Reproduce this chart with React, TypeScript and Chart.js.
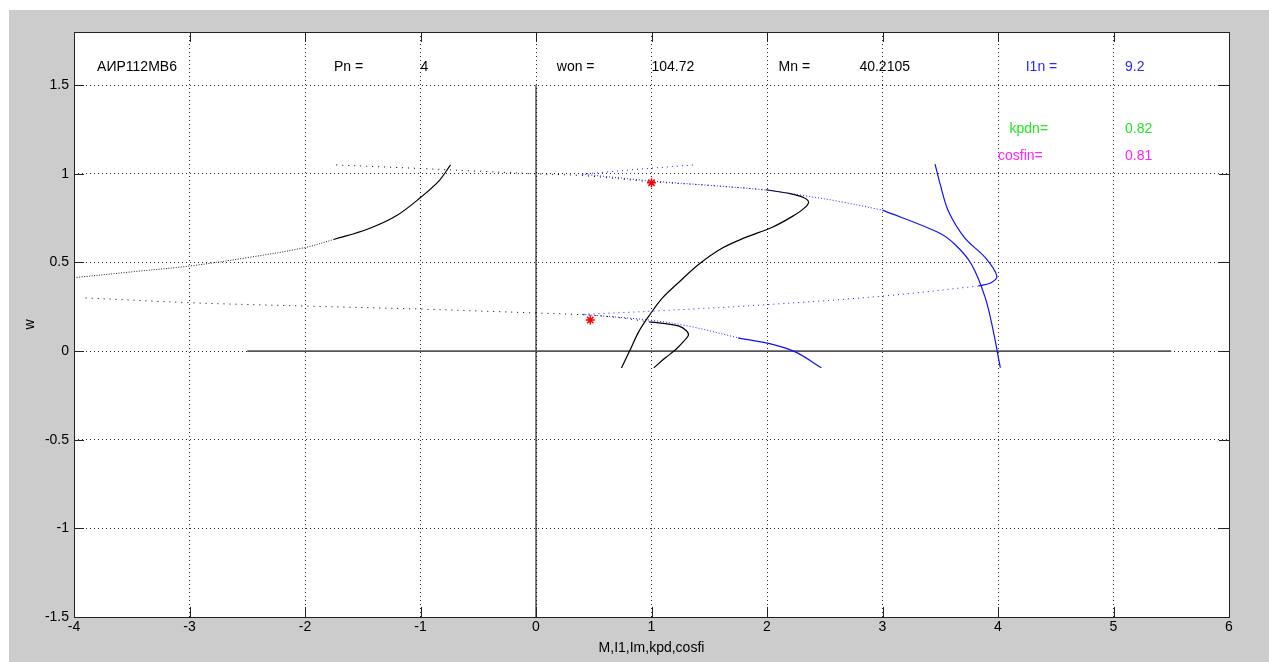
import React, { useEffect, useRef } from "react";
import { Chart, registerables } from "chart.js";

Chart.register(...registerables);

// Axis limits and ticks
const xLimits = [-4, 6];
const yLimits = [-1.5, 1.8];
const xTickValues = [-4, -3, -2, -1, 0, 1, 2, 3, 4, 5, 6];
const yTickValues = [-1.5, -1, -0.5, 0, 0.5, 1, 1.5];

// Black: torque curves
const mGenDotX = [-4, -3.5, -3, -2.5, -2, -1.75];
const mGenDotY = [0.414, 0.447, 0.48, 0.527, 0.584, 0.63];
const mGenX = [-1.75, -1.46, -1.21, -1, -0.84, -0.74];
const mGenY = [0.63, 0.687, 0.763, 0.866, 0.96, 1.05];

const m1DotX = [-1.73, -1, -0.5, 0, 0.4, 1.0, 1.5, 1.99];
const m1DotY = [1.05, 1.03, 1.015, 1.0, 0.99, 0.955, 0.935, 0.91];
const m1X = [1.99, 2.2, 2.32, 2.36, 2.32, 2.22, 2.05, 1.81, 1.61, 1.41, 1.24, 1.095, 0.98, 0.89, 0.81, 0.74];
const m1Y = [0.91, 0.888, 0.865, 0.84, 0.805, 0.76, 0.7, 0.64, 0.58, 0.49, 0.39, 0.3, 0.2, 0.11, 0.0, -0.095];

const m2DotX = [-3.9, -3, -2, -1, 0, 0.4, 0.7, 0.98];
const m2DotY = [0.3, 0.273, 0.254, 0.237, 0.215, 0.205, 0.19, 0.165];
const m2X = [0.98, 1.12, 1.24, 1.3, 1.32, 1.28, 1.21, 1.12, 1.02];
const m2Y = [0.165, 0.155, 0.141, 0.116, 0.09, 0.056, 0.009, -0.038, -0.094];

// Blue: current curves
const i1DotX = [0.4, 1.0, 1.5, 1.99, 2.33, 2.62, 3.0];
const i1DotY = [0.998, 0.96, 0.935, 0.908, 0.876, 0.845, 0.795];
const i1X = [3.0, 3.48, 3.63, 3.77, 3.89, 3.96, 4.02];
const i1Y = [0.795, 0.67, 0.6, 0.49, 0.3, 0.11, -0.094];

const imDotX = [0.4, 0.9, 1.37];
const imDotY = [0.998, 1.027, 1.05];

const i2X = [3.455, 3.5, 3.57, 3.71, 3.89, 3.99, 3.94, 3.83];
const i2Y = [1.055, 0.94, 0.79, 0.64, 0.527, 0.424, 0.386, 0.367];
const i2DotX = [3.83, 3.0, 2.0, 1.0, 0.4];
const i2DotY = [0.367, 0.31, 0.262, 0.225, 0.207];

const i3DotX = [0.4, 0.98, 1.32, 1.75];
const i3DotY = [0.207, 0.175, 0.141, 0.075];
const i3X = [1.75, 2.04, 2.25, 2.47];
const i3Y = [0.075, 0.039, -0.006, -0.094];

// Nominal points
const starX = [1.0, 0.47];
const starY = [0.95, 0.175];

// Reference lines
const zeroLineX = [-2.5, 5.5];
const zeroLineY = [0, 0];
const vertLineX = [0, 0];
const vertLineY = [-1.5, 1.5];

// Annotations
const annoTexts = ["АИР112МВ6", "Pn =", "4", "won =", "104.72", "Mn =", "40.2105", "I1n =", "9.2", "kpdn=", "0.82", "cosfin=", "0.81"];
const annoX = [-3.8, -1.75, -1.0, 0.18, 1.0, 2.1, 2.8, 4.24, 5.1, 4.1, 5.1, 4.0, 5.1];
const annoY = [1.6, 1.6, 1.6, 1.6, 1.6, 1.6, 1.6, 1.6, 1.6, 1.25, 1.25, 1.1, 1.1];
const annoColors = ["#000", "#000", "#000", "#000", "#000", "#000", "#000", "#2828ff", "#2828ff", "#22e622", "#22e622", "#ff22ff", "#ff22ff"];

const xTitle = "M,I1,Im,kpd,cosfi";
const yTitle = "w";

const FONT = "'Liberation Sans', Arial, sans-serif";

function pts(xs: number[], ys: number[]) {
  return xs.map((x, i) => ({ x, y: ys[i] }));
}

function line(xs: number[], ys: number[], color: string, opts: any = {}) {
  return {
    data: pts(xs, ys),
    borderColor: color,
    backgroundColor: color,
    borderWidth: 1.2,
    pointRadius: 0,
    showLine: true,
    fill: false,
    tension: 0.35,
    order: 5,
    ...opts,
  };
}

const frame = {
  id: "matlabFrame",
  beforeDraw(chart: any) {
    const { ctx, chartArea: a } = chart;
    ctx.save();
    ctx.fillStyle = "#ffffff";
    ctx.fillRect(a.left, a.top, a.right - a.left, a.bottom - a.top);
    ctx.restore();
  },
  afterDatasetsDraw(chart: any) {
    const { ctx, chartArea: a, scales } = chart;
    const xs = scales.x;
    const ys = scales.y;
    ctx.save();
    // box
    ctx.strokeStyle = "#222";
    ctx.lineWidth = 1;
    ctx.setLineDash([]);
    ctx.strokeRect(Math.round(a.left) + 0.5, Math.round(a.top) + 0.5, Math.round(a.right - a.left), Math.round(a.bottom - a.top));
    // inner ticks
    const tl = 10;
    ctx.beginPath();
    xTickValues.forEach((v) => {
      const px = Math.round(xs.getPixelForValue(v)) + 0.5;
      ctx.moveTo(px, a.bottom);
      ctx.lineTo(px, a.bottom - tl);
      ctx.moveTo(px, a.top);
      ctx.lineTo(px, a.top + tl);
    });
    yTickValues.forEach((v) => {
      const py = Math.round(ys.getPixelForValue(v)) + 0.5;
      ctx.moveTo(a.left, py);
      ctx.lineTo(a.left + tl, py);
      ctx.moveTo(a.right, py);
      ctx.lineTo(a.right - tl, py);
    });
    ctx.stroke();

    // annotations
    ctx.font = `14px ${FONT}`;
    ctx.textBaseline = "middle";
    ctx.textAlign = "left";
    annoTexts.forEach((t, i) => {
      ctx.fillStyle = annoColors[i];
      ctx.fillText(t, xs.getPixelForValue(annoX[i]), ys.getPixelForValue(annoY[i]));
    });

    // axis titles
    ctx.fillStyle = "#000";
    ctx.textAlign = "center";
    ctx.fillText(xTitle, (a.left + a.right) / 2, 638);
    ctx.save();
    ctx.translate(21, (a.top + a.bottom) / 2);
    ctx.rotate(-Math.PI / 2);
    ctx.fillText(yTitle, 0, 0);
    ctx.restore();
    ctx.restore();
  },
};

export default function App() {
  const ref = useRef<HTMLCanvasElement | null>(null);
  useEffect(() => {
    if (!ref.current) return;
    const dot = [1, 5];
    const dotB = [1, 2];
    const chart = new Chart(ref.current, {
      type: "scatter",
      data: {
        datasets: [
          {
            data: pts(starX, starY),
            pointStyle: "star",
            pointRadius: 4.5,
            borderColor: "#ff0000",
            backgroundColor: "#ff0000",
            borderWidth: 1.5,
            showLine: false,
            order: 0,
          } as any,
          line(i1X, i1Y, "#1010ff", { order: 1 }),
          line(i1DotX, i1DotY, "#2020ff", { borderDash: dotB, borderWidth: 1, order: 1 }),
          line(imDotX, imDotY, "#2020ff", { borderDash: [1, 4], borderWidth: 1, tension: 0, order: 1 }),
          line(i2X, i2Y, "#1010ff", { order: 1 }),
          line(i2DotX, i2DotY, "#2020ff", { borderDash: [1, 4], borderWidth: 1, order: 1 }),
          line(i3X, i3Y, "#1010ff", { order: 1 }),
          line(i3DotX, i3DotY, "#2020ff", { borderDash: dotB, borderWidth: 1, order: 1 }),
          line(mGenX, mGenY, "#000"),
          line(mGenDotX, mGenDotY, "#222", { borderDash: [1, 1.5], borderWidth: 1 }),
          line(m1X, m1Y, "#000"),
          line(m1DotX, m1DotY, "#000", { borderDash: dot, borderWidth: 1 }),
          line(m2X, m2Y, "#000"),
          line(m2DotX, m2DotY, "#000", { borderDash: dot, borderWidth: 1 }),
          line(zeroLineX, zeroLineY, "#555", { borderWidth: 1.6, tension: 0, order: 9 }),
          line(vertLineX, vertLineY, "#000", { borderWidth: 1, tension: 0, order: 9 }),
        ],
      },
      options: {
        animation: false,
        responsive: false,
        events: [],
        layout: { padding: { left: 0, top: 22, right: 40, bottom: 0 } },
        plugins: { legend: { display: false }, tooltip: { enabled: false } },
        scales: {
          x: {
            type: "linear",
            min: xLimits[0],
            max: xLimits[1],
            afterFit: (s: any) => {
              s.height = 45;
            },
            afterBuildTicks: (s: any) => {
              s.ticks = xTickValues.map((v) => ({ value: v }));
            },
            ticks: {
              font: { family: FONT, size: 14 },
              color: "#000",
              padding: 2,
              autoSkip: false,
              maxRotation: 0,
              callback: (v: any) => String(v),
            },
            grid: { color: "rgba(0,0,0,0.85)", lineWidth: 1, drawTicks: false },
            border: { display: false, dash: [1, 3] },
          },
          y: {
            type: "linear",
            min: yLimits[0],
            max: yLimits[1],
            afterFit: (s: any) => {
              s.width = 65;
            },
            afterBuildTicks: (s: any) => {
              s.ticks = yTickValues.map((v) => ({ value: v }));
            },
            ticks: {
              font: { family: FONT, size: 14 },
              color: "#000",
              padding: 5,
              autoSkip: false,
              callback: (v: any) => String(v),
            },
            grid: { color: "rgba(0,0,0,0.85)", lineWidth: 1, drawTicks: false },
            border: { display: false, dash: [1, 3] },
          },
        },
      },
      plugins: [frame],
    } as any);
    return () => chart.destroy();
  }, []);

  return (
    <div style={{ position: "fixed", left: 0, top: 0, width: 1269, height: 662, background: "#fff" }}>
      <div style={{ position: "absolute", left: 9, top: 10, width: 1260, height: 652, background: "#cccccc" }}>
        <canvas ref={ref} width={1260} height={652} style={{ display: "block", width: 1260, height: 652 }} />
      </div>
    </div>
  );
}
